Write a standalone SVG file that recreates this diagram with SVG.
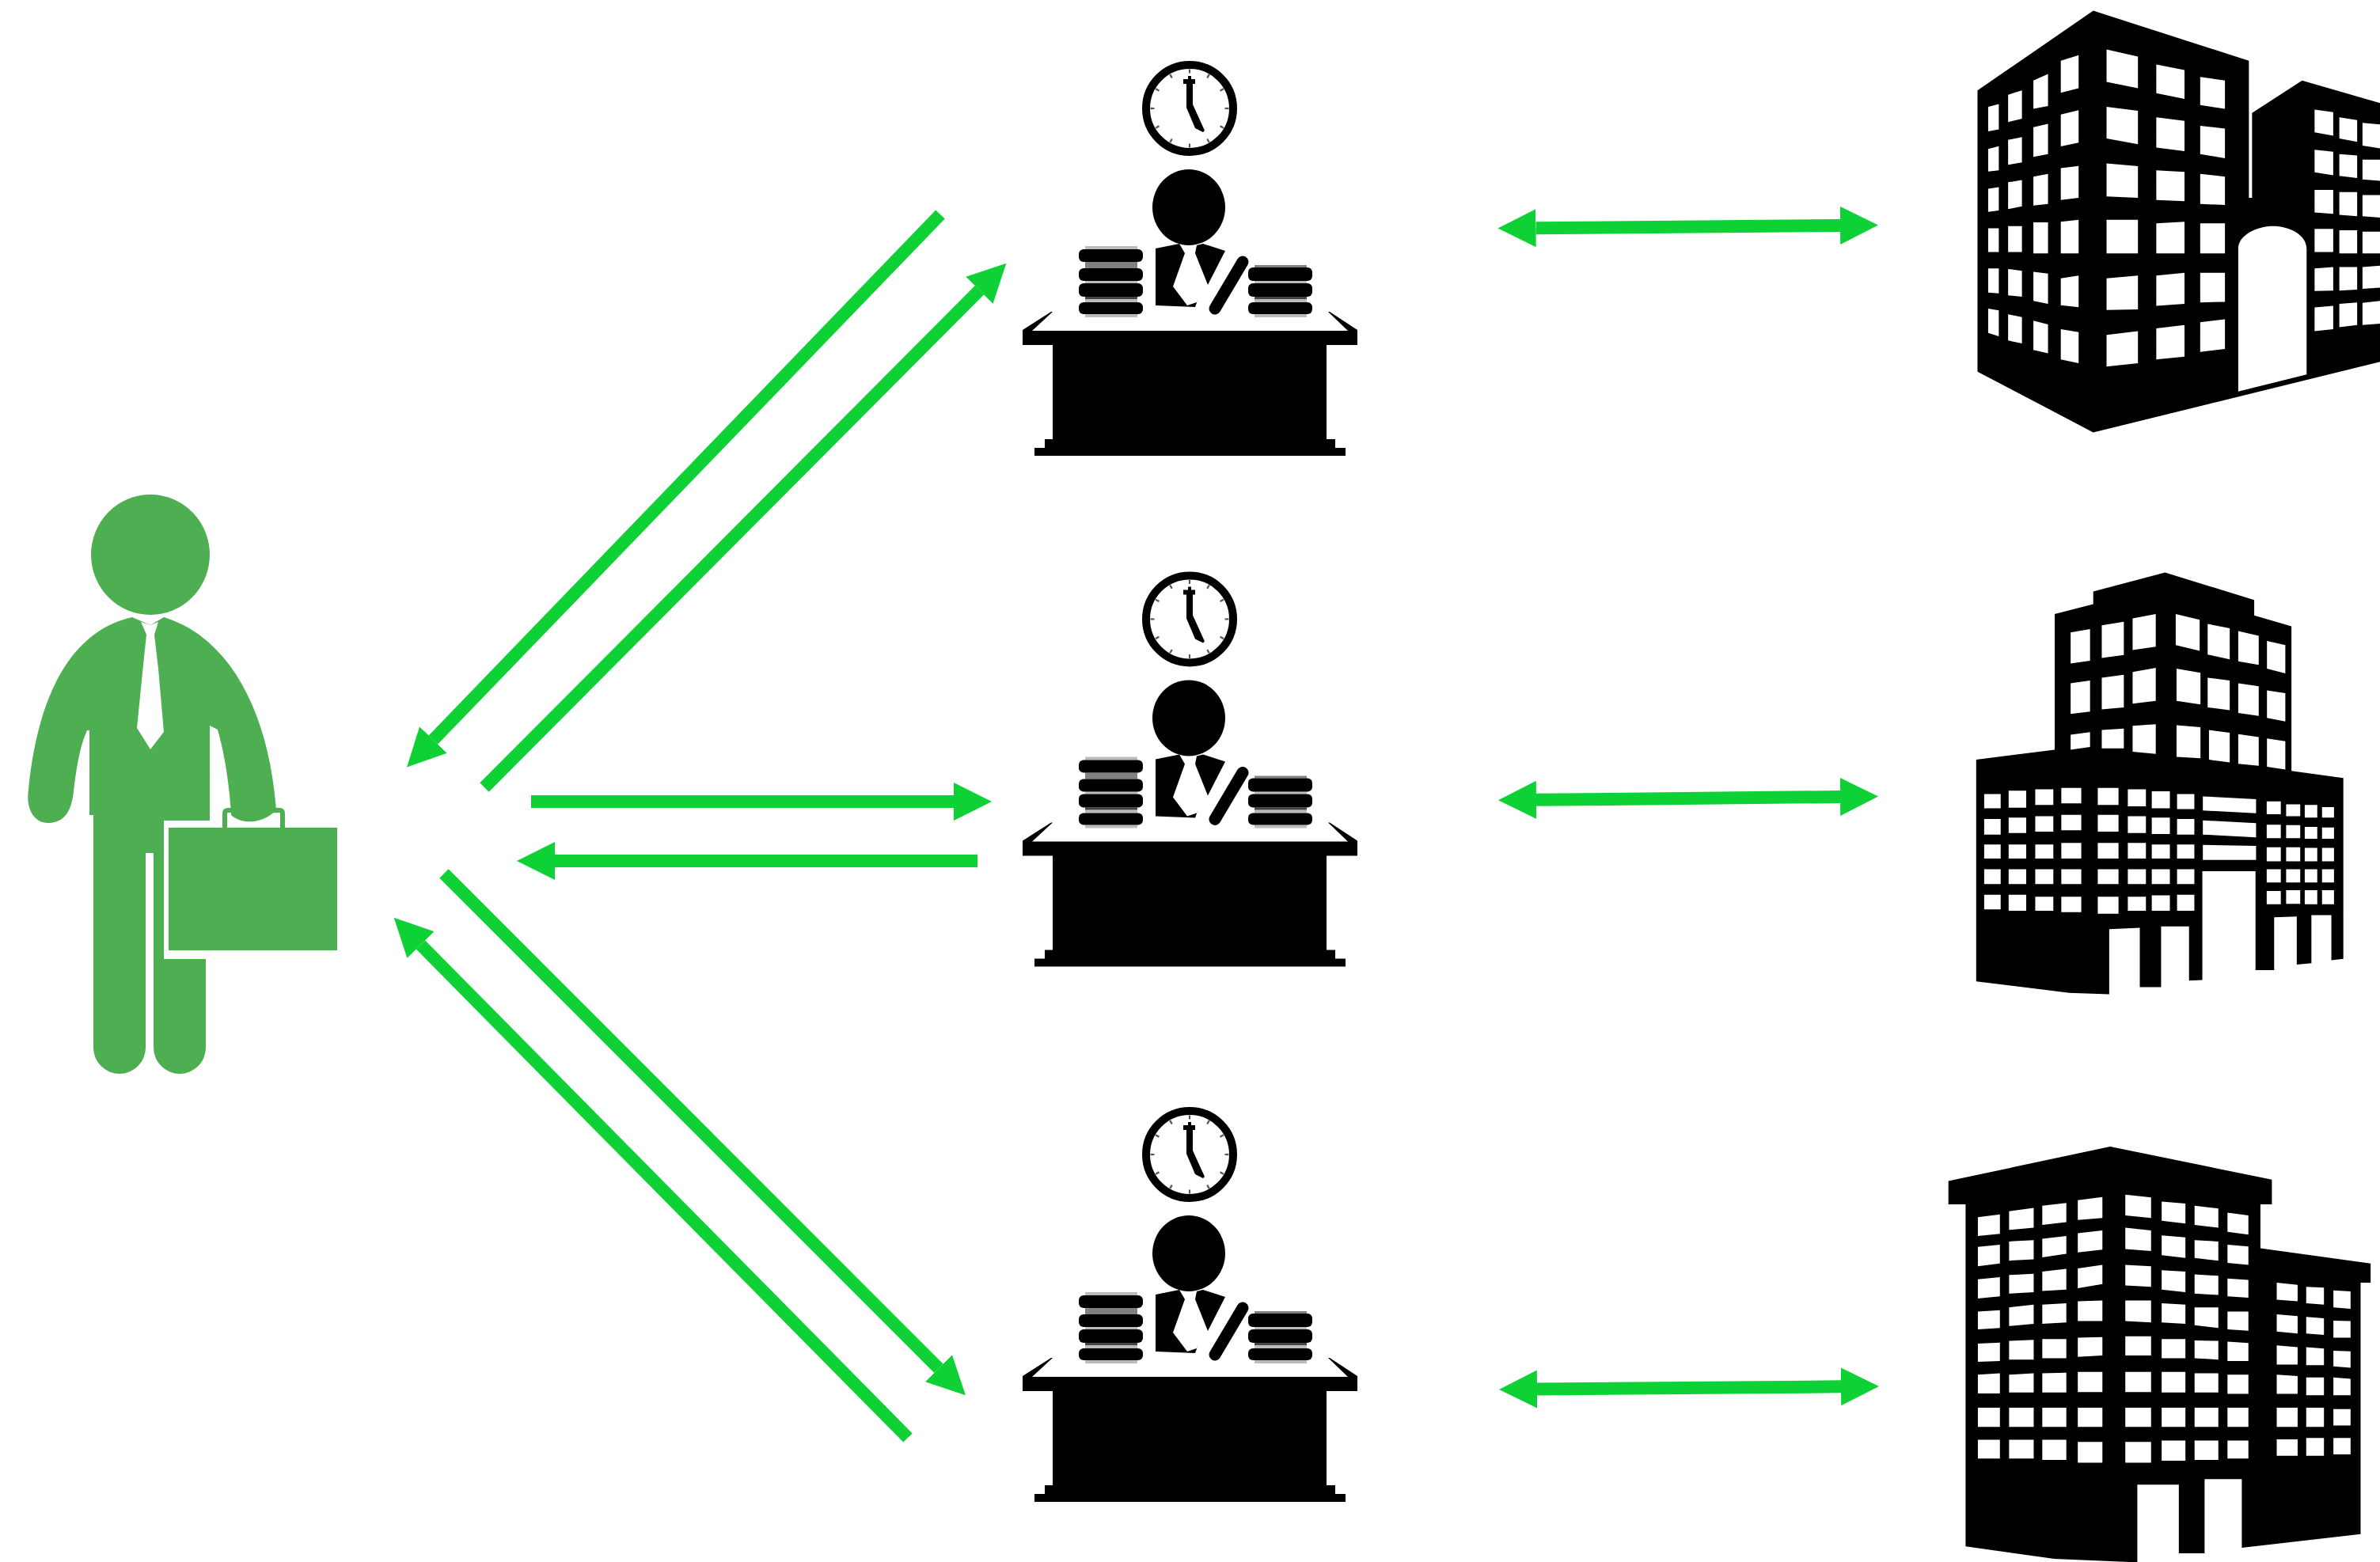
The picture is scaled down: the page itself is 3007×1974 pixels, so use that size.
<svg xmlns="http://www.w3.org/2000/svg" xmlns:xlink="http://www.w3.org/1999/xlink" width="3007" height="1974" viewBox="0 0 3007 1974">
<style>
.g{fill:#4eaf52}
.k{fill:#000}
.w{fill:#fff}
.c{stroke:#0dd135;stroke-width:16;fill:none}
.d{marker-end:url(#h)}
.b{marker-start:url(#h);marker-end:url(#h)}
</style>
<defs>
<marker id="h" markerUnits="userSpaceOnUse" markerWidth="48" markerHeight="48" viewBox="0 0 48 48" refX="0" refY="24" orient="auto-start-reverse"><path d="M0 0L48 24L0 48Z" fill="#0dd135"/></marker>
<g id="desk">
<circle cx="1503" cy="137" r="55" fill="#fff" stroke="#000" stroke-width="10"/>
<circle cx="1503" cy="137" r="47" fill="none" stroke="#555" stroke-width="5" pathLength="12" stroke-dasharray="0.09 0.91" stroke-dashoffset="0.045"/>
<path class="k" d="M1501 96L1505 96 1505 100 1510 100 1510 106 1507 106 1507 132 1522 165 1520 167 1510 162 1499 136 1499 106 1495 106 1495 100 1501 100Z"/>
<ellipse class="k" cx="1502" cy="262" rx="46" ry="48"/>
<path class="k" d="M1460 314L1490 308 1497 320 1482 362 1500 386 1512 382 1514 377 1510 388 1460 386ZM1512 310L1520 308 1548 317 1526 360 1510 320Z"/>
<path d="M1535 390L1570 331" fill="none" stroke="#000" stroke-width="15" stroke-linecap="round"/>
<path fill="#bbb" d="M1371 311h66v4h-66zM1371 355h66v3h-66zM1371 378h66v4h-66zM1371 397h66v4h-66zM1585 355h66v3h-66zM1585 378h66v4h-66zM1585 397h66v4h-66z"/>
<path fill="#808080" d="M1371 331h66v8h-66zM1585 335h66v3h-66z"/>
<path fill="#444" d="M1371 375h66v3h-66zM1585 375h66v3h-66z"/>
<g class="k">
<rect x="1363" y="315" width="81" height="16" rx="6"/><rect x="1363" y="339" width="81" height="16" rx="6"/><rect x="1363" y="358" width="81" height="17" rx="6"/><rect x="1363" y="382" width="81" height="15" rx="6"/>
<rect x="1577" y="338" width="81" height="17" rx="6"/><rect x="1577" y="358" width="81" height="17" rx="6"/><rect x="1577" y="382" width="81" height="15" rx="6"/>
</g>
<path class="k" d="M1328 394L1292 417 1292 436 1330 436 1330 555 1320 555 1320 566 1307 566 1307 576 1700 576 1700 566 1687 566 1687 555 1676 555 1676 436 1715 436 1715 417 1680 394 1678 394 1703 418 1304 418 1330 394Z"/>
</g>
</defs>
<rect width="3007" height="1974" fill="#fff"/>
<g id="person">
<ellipse class="g" cx="190" cy="701" rx="75" ry="76"/>
<path class="g" d="M167 780C100 795 50 860 36 998C32 1025 45 1040 60 1040C78 1040 90 1030 93 1000C96 975 100 945 110 923L113 923L113 1030L118 1030L118 1324A33 33 0 0 0 184 1324L184 1078L194 1078L194 1324A33 33 0 0 0 260 1324L260 1212L207 1212L207 1037L265 1037L265 917L275 922C283 950 290 990 292 1030C305 1042 330 1042 349 1024C340 900 290 805 207 780L190 790Z"/>
<path class="w" d="M178 786L190 790 200 786 195 802 200 845 207 925 190 947 173 920 180 850 185 802Z"/>
<path d="M284 1048V1028Q284 1024 288 1024H353Q357 1024 357 1028V1048" fill="none" stroke="#4eaf52" stroke-width="6"/>
<rect class="g" x="213" y="1046" width="213" height="155"/>
</g>
<g id="connectors">
<path class="c d" d="M1188 271L547.4 935"/>
<path class="c d" d="M612 995L1237.5 366.7"/>
<path class="c d" d="M671 1013H1205"/>
<path class="c d" d="M1235 1088H701"/>
<path class="c d" d="M561 1104L1186 1729.3"/>
<path class="c d" d="M1147 1817L531.5 1194"/>
<path class="c b" d="M1940.5 288.2L2325 285"/>
<path class="c b" d="M1941 1010.8L2325 1007"/>
<path class="c b" d="M1942 1755.6L2326 1752.3"/>
</g>
<g id="desk-1"><use xlink:href="#desk" href="#desk"/></g>
<g id="desk-2"><use xlink:href="#desk" href="#desk" y="645.4"/></g>
<g id="desk-3"><use xlink:href="#desk" href="#desk" y="1322"/></g>
<g id="building-1" transform="translate(2480 0) scale(.33613 .35714)">
<path class="k" d="M490 38L1075 215 1075 700 1087 700 1087 400 1275 285 1568 365 1568 1280 490 1530 55 1315 55 320Z"/>
<path class="w" d="M95 378L135 368 135 458 95 465ZM95 527L135 517 135 603 95 607ZM95 668L135 662 135 745 95 750ZM95 808L135 808 135 892 95 892ZM95 950L135 950 135 1038 95 1035ZM95 1092L135 1098 135 1190 95 1178Z
M170 335L222 320 222 420 170 432ZM170 495L222 485 222 575 170 583ZM170 645L222 637 222 730 170 740ZM170 800L222 800 222 892 170 892ZM170 952L222 958 222 1050 170 1045ZM170 1112L222 1122 222 1215 170 1205Z
M265 285L320 262 320 375 265 385ZM265 450L320 438 320 545 265 555ZM265 625L320 615 320 722 265 727ZM265 787L320 787 320 897 265 897ZM265 962L320 968 320 1075 265 1065ZM265 1135L320 1148 320 1250 265 1238Z
M368 215L435 195 435 312 368 328ZM368 405L435 390 435 505 368 518ZM368 595L435 587 435 700 368 708ZM368 785L435 778 435 897 368 897ZM368 985L435 975 435 1087 368 1080ZM368 1165L435 1175 435 1285 368 1272Z
M540 175L658 200 658 312 540 290ZM540 378L658 392 658 510 540 490ZM540 578L658 588 658 700 540 695ZM540 778L658 778 658 897 540 897ZM540 985L658 975 658 1095 540 1097ZM540 1185L658 1172 658 1285 540 1297Z
M727 228L833 248 833 350 727 330ZM727 415L833 428 833 535 727 522ZM727 603L833 608 833 712 727 708ZM727 790L833 785 833 897 727 897ZM727 975L833 965 833 1075 727 1082ZM727 1162L833 1150 833 1262 727 1272Z
M892 272L985 285 985 385 892 372ZM892 445L985 455 985 560 892 545ZM892 615L985 625 985 725 892 722ZM892 790L985 790 985 897 892 897ZM892 965L985 965 985 1068 892 1070ZM892 1140L985 1130 985 1235 892 1245Z
M1322 388L1392 397 1392 480 1322 468ZM1322 530L1392 537 1392 620 1322 610ZM1322 672L1392 672 1392 757 1322 752ZM1322 810L1392 810 1392 892 1322 892ZM1322 950L1392 945 1392 1028 1322 1030ZM1322 1088L1392 1082 1392 1165 1322 1172Z
M1415 415L1482 425 1482 502 1415 490ZM1415 545L1482 550 1482 630 1415 622ZM1415 680L1482 680 1482 765 1415 760ZM1415 815L1482 815 1482 897 1415 897ZM1415 945L1482 945 1482 1025 1415 1028ZM1415 1075L1482 1070 1482 1150 1415 1158Z
M1502 435L1568 440 1568 525 1502 515ZM1502 565L1568 565 1568 640 1502 635ZM1502 690L1568 690 1568 770 1502 765ZM1502 820L1568 820 1568 897 1502 897ZM1502 945L1568 940 1568 1018 1502 1022ZM1502 1072L1568 1065 1568 1145 1502 1150Z
M1035 1385V880C1035 830 1110 800 1165 800C1225 800 1292 830 1292 880V1325Z"/>
</g>
<g id="building-2" transform="translate(2480 710) scale(.33613 .35714)">
<path class="k" d="M345 185L490 150 490 105 760 38 1095 135 1095 190 1235 228 1235 740 1430 765 1430 1405 1385 1410 1385 1250 1310 1250 1310 1420 1255 1425 1255 1255 1170 1258 1170 1445 1100 1445 1100 1095 900 1095 900 1480 850 1482 850 1290 745 1290 745 1505 665 1505 665 1295 550 1300 550 1530 400 1525 50 1485 50 700 345 665Z"/>
<path class="w" d="M405 250L478 238 478 350 405 360ZM405 430L478 420 478 530 405 538ZM405 612L478 603 478 655 405 665Z
M522 225L605 212 605 330 522 340ZM522 410L605 400 605 515 522 522ZM522 595L605 590 605 660 522 660Z
M638 200L725 185 725 300 638 312ZM638 390L725 375 725 492 638 502ZM638 580L725 575 725 680 638 672Z
M800 185L890 205 890 315 800 295ZM803 378L893 393 893 505 803 492ZM803 578L893 585 893 695 803 690Z
M920 220L1003 235 1003 345 920 328ZM920 410L1003 420 1003 525 920 515ZM925 595L1003 605 1003 710 925 700Z
M1035 245L1112 262 1112 365 1035 352ZM1035 430L1112 440 1112 545 1035 535ZM1035 610L1112 620 1112 722 1035 715Z
M1143 280L1212 295 1212 395 1143 378ZM1143 455L1212 465 1212 565 1143 552ZM1143 625L1212 635 1212 735 1143 725Z
M80 822H142V872H80ZM172 810H238V870H172ZM272 805H340V860H272ZM370 800H445V855H370ZM507 800H585V860H507ZM620 805H688V865H620ZM710 812H778V872H710ZM805 822H870V875H805Z
M80 910H142V965H80ZM172 905H238V960H172ZM272 900H340V955H272ZM370 895H445V950H370ZM507 895H585V955H507ZM620 900H688V960H620ZM710 905H778V963H710ZM805 910H870V965H805Z
M80 1000H142V1050H80ZM172 1000H238V1050H172ZM272 1000H340V1050H272ZM370 995H445V1050H370ZM507 995H585V1050H507ZM620 995H688V1050H620ZM710 1000H778V1050H710ZM805 1000H870V1050H805Z
M80 1088H142V1140H80ZM172 1088H238V1140H172ZM272 1088H340V1140H272ZM370 1088H445V1140H370ZM507 1088H585V1140H507ZM620 1088H688V1140H620ZM710 1088H778V1140H710ZM805 1088H870V1140H805Z
M80 1178H142V1230H80ZM172 1178H238V1235H172ZM272 1185H340V1235H272ZM370 1185H445V1240H370ZM507 1185H585V1245H507ZM620 1185H688V1235H620ZM710 1180H778V1235H710ZM805 1178H870V1235H805Z
M902 830L1102 840 1102 890 902 880ZM902 915L1102 925 1102 975 902 965ZM902 1002L1102 1005 1102 1055 902 1055Z
M1142 848H1195V893H1142ZM1215 858H1268V900H1215ZM1285 860H1332V905H1285ZM1350 868H1395V905H1350Z
M1142 930H1195V978H1142ZM1215 932H1268V978H1215ZM1285 938H1332V980H1285ZM1350 940H1395V980H1350Z
M1142 1010H1195V1060H1142ZM1215 1010H1268V1060H1215ZM1285 1012H1332V1060H1285ZM1350 1012H1395V1060H1350Z
M1142 1088H1195V1135H1142ZM1215 1088H1268V1135H1215ZM1285 1088H1332V1135H1285ZM1350 1088H1395V1135H1350Z
M1142 1165H1195V1212H1142ZM1215 1162H1268V1210H1215ZM1285 1162H1332V1212H1285ZM1350 1162H1395V1212H1350Z"/>
</g>
<g id="building-3" transform="translate(2440 1430) scale(.36166 .34722)">
<path class="k" d="M625 55L1190 175 1190 265 1150 265 1150 425 1535 480 1535 550 1500 550 1500 1465 1085 1515 1085 1265 955 1265 955 1535 865 1535 865 1285 720 1285 720 1568 430 1555 120 1510 120 265 60 265 60 180Z"/>
<path class="w" d="M163 312L240 302 240 372 163 380ZM163 420L240 412 240 480 163 490ZM163 538L240 530 240 600 163 608ZM163 655L240 650 240 715 163 720ZM163 772L240 768 240 835 163 838ZM163 885L240 880 240 953 163 953ZM163 1005L240 1005 240 1075 163 1075ZM163 1122L240 1122 240 1190 163 1190Z
M272 290L358 278 358 350 272 358ZM272 400L358 395 358 465 272 470ZM272 522L358 518 358 585 272 590ZM272 640L358 630 358 700 272 708ZM272 762L358 758 358 830 272 830ZM272 885L358 880 358 950 272 950ZM272 1005L358 1005 358 1075 272 1075ZM272 1122L358 1122 358 1190 272 1190Z
M388 270L472 260 472 330 388 340ZM388 390L472 380 472 445 388 458ZM388 510L472 500 472 575 388 580ZM388 630L472 625 472 695 388 700ZM388 755L472 755 472 825 388 825ZM388 880L472 878 472 950 388 950ZM388 1005L472 1005 472 1075 388 1075ZM388 1122L472 1122 472 1195 388 1195Z
M512 250L598 238 598 315 512 322ZM512 370L598 360 598 430 512 440ZM512 498L598 485 598 555 512 570ZM512 618L598 615 598 690 512 690ZM512 750L598 748 598 815 512 820ZM512 875L598 875 598 948 512 948ZM512 1005L598 1005 598 1075 512 1075ZM512 1130L598 1130 598 1205 512 1205Z
M678 230L768 240 768 315 678 305ZM678 350L768 360 768 435 678 428ZM678 485L768 490 768 565 678 560ZM678 615L768 615 768 695 678 690ZM678 745L768 745 768 815 678 815ZM678 875L768 875 768 948 678 948ZM678 1005L768 1005 768 1075 678 1075ZM678 1130L768 1130 768 1205 678 1205Z
M805 255L888 262 888 335 805 325ZM805 378L888 385 888 460 805 450ZM805 505L888 510 888 585 805 575ZM805 625L888 630 888 700 805 695ZM805 755L888 755 888 825 805 825ZM805 875L888 875 888 950 805 950ZM805 1005L888 1005 888 1075 805 1075ZM805 1125L888 1125 888 1198 805 1198Z
M920 270L1003 280 1003 350 920 340ZM920 395L1003 400 1003 470 920 460ZM920 520L1003 525 1003 595 920 590ZM920 640L1003 640 1003 715 920 705ZM920 760L1003 762 1003 830 920 825ZM920 880L1003 880 1003 950 920 950ZM920 1005L1003 1005 1003 1075 920 1075ZM920 1125L1003 1125 1003 1195 920 1195Z
M1035 295L1108 305 1108 375 1035 365ZM1035 412L1108 418 1108 485 1035 478ZM1035 535L1108 540 1108 605 1035 600ZM1035 655L1108 655 1108 725 1035 720ZM1035 765L1108 770 1108 835 1035 835ZM1035 885L1108 885 1108 955 1035 955ZM1035 1005L1108 1005 1108 1075 1035 1075ZM1035 1125L1108 1125 1108 1190 1035 1190Z
M1207 550L1280 558 1280 618 1207 612ZM1207 665L1280 672 1280 735 1207 728ZM1207 778L1280 785 1280 848 1207 848ZM1207 885L1280 890 1280 955 1207 955ZM1207 1005L1280 1005 1280 1075 1207 1075ZM1207 1120L1280 1120 1280 1180 1207 1180Z
M1310 565L1372 568 1372 630 1310 625ZM1310 675L1372 680 1372 740 1310 735ZM1310 785L1372 790 1372 850 1310 850ZM1310 895L1372 895 1372 960 1310 960ZM1310 1005L1372 1005 1372 1075 1310 1075ZM1310 1115L1372 1115 1372 1180 1310 1180Z
M1405 578L1465 582 1465 645 1405 640ZM1405 688L1465 690 1465 750 1405 750ZM1405 798L1465 800 1465 860 1405 855ZM1405 895L1465 900 1465 960 1405 960ZM1405 1010L1465 1010 1465 1070 1405 1070ZM1405 1115L1465 1115 1465 1175 1405 1175Z"/>
</g>
</svg>
